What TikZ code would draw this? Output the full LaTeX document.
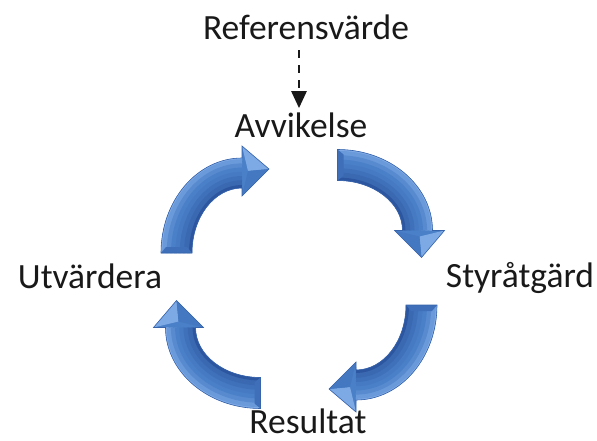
\documentclass[tikz,border=0pt]{standalone}
\usepackage{fontspec}
\setmainfont{Carlito}
\usetikzlibrary{arrows.meta}
\definecolor{amid}{RGB}{74,128,200}
\definecolor{alight}{RGB}{138,180,236}
\definecolor{adark}{RGB}{44,86,160}
\definecolor{aedge}{RGB}{56,100,172}
\definecolor{txtcol}{RGB}{25,25,25}
\def\arrowpath{(161,253) arc[start angle=180,end angle=270,x radius=81,y radius=95] -- (242,146) -- (269,169) -- (242,196) -- (242,188) arc[start angle=270,end angle=180,x radius=50,y radius=65] -- cycle}
\newcommand\bentarrowdraw{%
  \fill[amid] \arrowpath;
  \begin{scope}
    \clip \arrowpath;
    \foreach \t/\c in {0/alight!85!amid, 0.14/alight!50!amid, 0.28/alight!20!amid, 0.42/amid, 0.56/amid!85!adark, 0.7/amid!65!adark, 0.84/amid!45!adark, 1/adark}{
      \pgfmathsetmacro\rx{81-31*\t}
      \pgfmathsetmacro\ry{95-30*\t}
      \draw[\c, line width=6pt] ({242-\rx},253) arc[start angle=180,end angle=270,x radius=\rx,y radius=\ry];
    }
    \fill[alight!80!amid] (242,146) -- (269,169) -- (248,171) -- cycle;
    \fill[amid!80!adark] (248,171) -- (269,169) -- (242,196) -- cycle;
    \fill[amid!60!adark] (161,253) -- (192,253) -- (187,247) -- (166,247) -- cycle;
  \end{scope}
  \draw[aedge, line width=0.6pt] \arrowpath;
}
\begin{document}
\begin{tikzpicture}[x=1pt,y=-1pt,
  lbl/.style={font=\fontsize{35.5}{40}\selectfont, text=txtcol, inner sep=5pt, anchor=base},
  refarrow/.style={draw=txtcol, line width=2.6pt, dash pattern=on 8pt off 7pt, -{Triangle[length=17pt,width=15pt]}, shorten <=5pt}]
\useasboundingbox (0,0) rectangle (597,441);
\fill[white] (0,0) rectangle (597,441);
\node[lbl] (ref) at (306,40) {Referensvärde};
\node[lbl] (avv) at (301,138) {Avvikelse};
\node[lbl] (utv) at (90,288) {Utvärdera};
\node[lbl] (sty) at (520,287) {Styråtgärd};
\node[lbl, inner sep=1pt] (res) at (308,433) {Resultat};
\coordinate (ax) at (299,0);
\draw[refarrow] (ref.south -| ax) -- (avv.north -| ax);
% top-left
\bentarrowdraw
% bottom-right
\begin{scope}[rotate around={180:(299,279)}]\bentarrowdraw\end{scope}
% top-right
\begin{scope}[shift={(12.5,8.5)}]\begin{scope}[rotate around={-90:(299,279)}]\bentarrowdraw\end{scope}\end{scope}
% bottom-left
\begin{scope}[shift={(-12.5,-8.5)}]\begin{scope}[rotate around={90:(299,279)}]\bentarrowdraw\end{scope}\end{scope}
\end{tikzpicture}
\end{document}
